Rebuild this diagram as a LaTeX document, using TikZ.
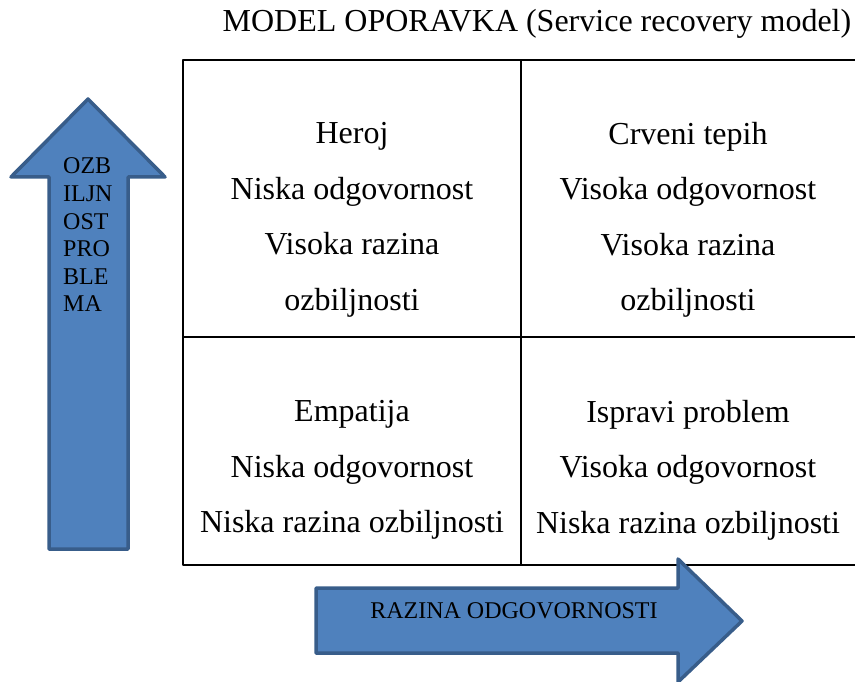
\documentclass[tikz,border=0pt]{standalone}
\usepackage{fontspec}
\setmainfont{Liberation Serif}
\usetikzlibrary{positioning}

\definecolor{arrowfill}{HTML}{4F81BD}
\definecolor{arrowedge}{HTML}{385D8A}

\begin{document}
\begin{tikzpicture}[
            x = 1pt, y = -1pt, % pixel grid, y grows downwards
            line join = round,
            cell/.style = {align = center, inner sep = 0pt,
                font = \fontsize{32}{55.5}\selectfont},
            axistext/.style = {inner sep = 0pt,
                font = \fontsize{24}{27.6}\selectfont},
            blockarrow/.style = {fill = arrowfill, draw = arrowedge,
                line width = 3.5pt}
        ]
        \useasboundingbox (0,0) rectangle (855,682);

        % title
        \node[inner sep = 0pt, font = \fontsize{32}{38}\selectfont] (title) at (537,24)
            {MODEL OPORAVKA (Service recovery model)};

        % grid of the four fields
        \draw[line width = 2.5pt] (855,60) -- (183,60) -- (183,565) -- (855,565);
        \draw[line width = 2.5pt] (521,60) -- (521,565);
        \draw[line width = 2.5pt] (183,337) -- (855,337);

        \node[cell] (heroj) at (352,220)
            {Heroj\\Niska odgovornost\\Visoka razina\\ozbiljnosti};
        \node[cell] (tepih) at (688,220)
            {Crveni tepih\\Visoka odgovornost\\Visoka razina\\ozbiljnosti};
        \node[cell] (empatija) at (352,470)
            {Empatija\\Niska odgovornost\\Niska razina ozbiljnosti};
        \node[cell] (ispravi) at (688,470)
            {Ispravi problem\\Visoka odgovornost\\Niska razina ozbiljnosti};

        % vertical arrow
        \draw[blockarrow] (49,549) -- (49,177) -- (11,177) -- (88,99)
            -- (165,177) -- (128,177) -- (128,549) -- cycle;
        \node[axistext, align = left, anchor = west] (ozbiljnost) at (63,235)
            {OZB\\ILJN\\OST\\PRO\\BLE\\MA};

        % horizontal arrow
        \draw[blockarrow] (316,588) -- (678,588) -- (678,559) -- (742,621)
            -- (678,682) -- (678,653) -- (316,653) -- cycle;
        \node[axistext] (razina) at (514,611) {RAZINA ODGOVORNOSTI};
\end{tikzpicture}
\end{document}
